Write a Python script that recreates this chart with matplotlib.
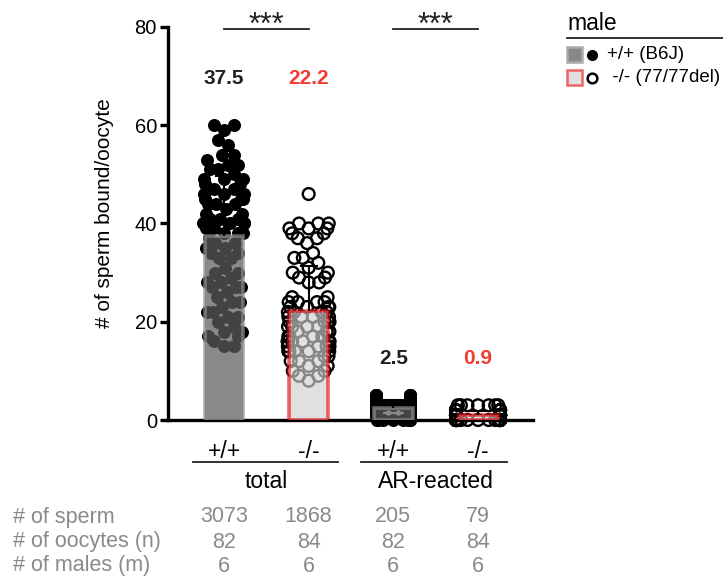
import numpy as np
import matplotlib
matplotlib.use('Agg')
import matplotlib.pyplot as plt
from matplotlib.patches import Rectangle
from matplotlib.lines import Line2D
from matplotlib.transforms import blended_transform_factory

plt.rcParams['font.family'] = ['Liberation Sans', 'DejaVu Sans']

# ---------------- data ----------------
bar_labels = ['+/+', '-/-', '+/+', '-/-']
group_names = ['total', 'AR-reacted']
mean_labels = ['37.5', '22.2', '2.5', '0.9']

wt_total = [60, 60, 59, 57, 56, 54, 54, 53, 52, 52, 51, 51, 50,
            49, 49, 49, 48, 48, 47, 47, 47, 46, 46, 46,
            45, 45, 45, 44, 44, 44, 43,
            42, 42, 41, 41, 41, 40, 40, 40, 40, 40,
            39, 39, 38, 38, 38, 37,
            36, 36, 35, 35, 34, 34, 33, 33,
            30, 30, 29, 28, 28, 27, 27, 27, 26,
            25, 24, 24, 23, 22, 22, 21, 21, 20, 19, 18, 18,
            17, 17, 16, 15, 15, 31]
ko_total = [46, 40, 40, 40, 39, 39, 39, 38, 38, 37, 37, 36,
            34, 33, 33, 32, 31, 30, 30, 29, 29, 28, 28,
            25, 25, 24, 24, 24, 24, 23, 23, 23, 23, 22, 22, 22, 22,
            21, 21, 21, 21, 20, 20, 20, 20, 19, 19, 19, 19, 18, 18, 18, 18,
            17, 17, 16, 16, 16, 14, 14,
            17, 17, 16, 16, 16, 15, 15, 15, 14, 14, 13, 13,
            15, 14, 12, 12, 12, 11, 11, 10, 10, 9, 9, 8]
wt_ar = [5, 5, 5, 5, 5, 5, 5, 5, 5,
         4, 4, 4, 4, 4, 4, 4, 4, 4, 4, 4, 4, 4, 4,
         3, 3, 3, 3, 3, 3, 3, 3, 3, 3, 3, 3, 3, 3, 3, 3, 3, 3,
         2, 2, 2, 2, 2, 2, 2, 2, 2, 2, 2, 2, 2, 2, 2, 2, 2, 2, 2,
         1, 1, 1, 1, 1, 1, 1, 1, 1, 1, 1, 1,
         0, 0, 0, 0, 0, 0, 0, 0, 0, 0]
ko_ar = [3, 3, 3, 3, 3, 3, 3,
         2, 2, 2, 2, 2, 2, 2, 2, 2, 2, 2, 2,
         1, 1, 1, 1, 1, 1, 1, 1, 1, 1, 1, 1, 1, 1, 1, 1, 1,
         1, 1, 1, 1, 1, 1, 1, 1, 1, 1, 1, 1, 1, 1, 1, 1, 1,
         0, 0, 0, 0, 0, 0, 0, 0, 0, 0, 0, 0, 0, 0, 0, 0,
         0, 0, 0, 0, 0, 0, 0, 0, 0, 0, 0, 0, 0, 0, 0]
series = [wt_total, ko_total, wt_ar, ko_ar]

table_rows = ['# of sperm', '# of oocytes (n)', '# of males (m)']
n_sperm = ['3073', '1868', '205', '79']
n_oocytes = ['82', '84', '82', '84']
n_males = ['6', '6', '6', '6']

# ---------------- figure ----------------
W, H = 723, 582
fig = plt.figure(figsize=(W / 100, H / 100), dpi=100)
ax_l, ax_r, ax_t, ax_b = 168, 533, 27, 420
ax = fig.add_axes([ax_l / W, 1 - ax_b / H, (ax_r - ax_l) / W, (ax_b - ax_t) / H])
xpos = np.arange(4)
ax.set_xlim(-0.661, 3.649)
ax.set_ylim(0, 80)

sx = (ax_r - ax_l) / (3.649 + 0.661)
sy = (ax_b - ax_t) / 80.0


def swarm(vals, d_px, maxoff_px):
    ys = np.array(vals, float) * sy
    order = np.argsort(ys)
    placed = []
    offs = np.zeros(len(ys))
    for i in order:
        y = ys[i]
        cands = [0.0]
        for (px, py) in placed:
            dy = y - py
            if abs(dy) < d_px:
                dx = np.sqrt(d_px ** 2 - dy ** 2)
                cands += [px + dx + 1e-6, px - dx - 1e-6]
        cands.sort(key=abs)
        for c in cands:
            ok = True
            for (px, py) in placed:
                if (c - px) ** 2 + (y - py) ** 2 < d_px ** 2 - 1e-6:
                    ok = False
                    break
            if ok:
                offs[i] = c
                break
        placed.append((offs[i], y))
    offs = maxoff_px * np.tanh(offs / maxoff_px)
    return offs / sx


wt_face = (0.365, 0.365, 0.365, 0.73)
wt_edge = (0.545, 0.545, 0.545, 0.73)
ko_face = (0.816, 0.816, 0.816, 0.655)
ko_edge = (0.91, 0.07, 0.07, 0.655)

maxoffs = [21, 21, 17, 22]
for i, vals in enumerate(series):
    off = swarm(vals, 11.5, maxoffs[i])
    if i % 2 == 0:
        ax.scatter(xpos[i] + off, vals, s=88, color='black', linewidths=0,
                   zorder=2, clip_on=False)
    else:
        ax.scatter(xpos[i] + off, vals, s=72, facecolors='none',
                   edgecolors='black', linewidths=1.7, zorder=2, clip_on=False)

means = [np.mean(v) for v in series]
sds = [np.std(v, ddof=1) for v in series]
cap_half = 9.0 / sx
for i in range(4):
    fc, ec = (wt_face, wt_edge) if i % 2 == 0 else (ko_face, ko_edge)
    ax.bar(xpos[i], means[i], width=0.46, color=fc, edgecolor=ec,
           linewidth=2.6, zorder=3)
    ax.vlines(xpos[i], means[i], means[i] + sds[i], color='black', lw=1.5,
              zorder=4)
    ax.hlines(means[i] + sds[i], xpos[i] - cap_half, xpos[i] + cap_half,
              color='black', lw=1.5, zorder=4)

# mean labels
mean_y = [69.5, 69.5, 12.6, 12.6]
for i in range(4):
    ax.text(xpos[i], mean_y[i], mean_labels[i], ha='center', va='center',
            fontsize=15, fontweight='bold',
            color='#222222' if i % 2 == 0 else '#f03c32', clip_on=False)

# significance
for a, b in [(0, 1), (2, 3)]:
    ax.plot([xpos[a], xpos[b]], [79.5, 79.5], color='#222222', lw=1.3,
            clip_on=False, zorder=5)
    ax.text((xpos[a] + xpos[b]) / 2, 78.6, '***', ha='center', va='baseline',
            fontsize=22, color='#222222', clip_on=False)

# axes styling
for s in ['top', 'right']:
    ax.spines[s].set_visible(False)
ax.spines['left'].set_linewidth(2.4)
ax.spines['bottom'].set_linewidth(2.4)
ax.spines['left'].set_bounds(0, 80)
ax.set_yticks([0, 20, 40, 60, 80])
ax.tick_params(axis='y', length=6, width=2.4, labelsize=14.5, pad=2)
ax.set_xticks([])
fig.text(105 / W, 1 - 213 / H, '# of sperm bound/oocyte', rotation=90,
         ha='center', va='center', fontsize=15)

# bar category labels and group labels
btr = blended_transform_factory(ax.transData, fig.transFigure)
for i in range(4):
    fig.texts.append(plt.Text(xpos[i], 1 - 452 / H, bar_labels[i],
                              transform=btr, fontsize=16.5, ha='center',
                              va='center', figure=fig))
spans = [(-0.37, 1.35), (1.62, 3.34)]
for g, (x0, x1) in enumerate(spans):
    fig.add_artist(Line2D([x0, x1], [1 - 462 / H, 1 - 462 / H], transform=btr,
                          color='#222222', lw=1.3))
    fig.texts.append(plt.Text((xpos[2 * g] + xpos[2 * g + 1]) / 2, 1 - 481 / H,
                              group_names[g], transform=btr, fontsize=16.5,
                              ha='center', va='center', figure=fig))

# table
row_y = [517, 542, 566]
gray = '#8a8a8a'
for r, (lab, vals) in enumerate(zip(table_rows, [n_sperm, n_oocytes, n_males])):
    fig.text(13 / W, 1 - row_y[r] / H, lab, fontsize=15.5, color=gray,
             ha='left', va='center')
    for i in range(4):
        fig.texts.append(plt.Text(xpos[i], 1 - row_y[r] / H, vals[i],
                                  transform=btr, fontsize=15.5, color=gray,
                                  ha='center', va='center', figure=fig))

# legend
fig.text(567 / W, 1 - 23 / H, 'male', fontsize=16.5, ha='left', va='center')
fig.add_artist(Line2D([567 / W, 1.0], [1 - 38 / H, 1 - 38 / H],
                      transform=fig.transFigure, color='#222222', lw=1.3))
fig.add_artist(Rectangle((567 / W, 1 - 62 / H), 15 / W, 15 / H,
                         transform=fig.transFigure, facecolor='#888888',
                         edgecolor='#aaaaaa', lw=1.8))
fig.add_artist(Line2D([592 / W], [1 - 54.5 / H], transform=fig.transFigure,
                      marker='o', markersize=7, color='black', lw=0))
fig.text(607 / W, 1 - 54.5 / H, '+/+ (B6J)', fontsize=13.5, ha='left',
         va='center')
fig.add_artist(Rectangle((567 / W, 1 - 85 / H), 15 / W, 15 / H,
                         transform=fig.transFigure, facecolor='#e0e0e0',
                         edgecolor='#f06464', lw=1.8))
fig.add_artist(Line2D([592 / W], [1 - 77.5 / H], transform=fig.transFigure,
                      marker='o', markersize=7, markerfacecolor='none',
                      markeredgecolor='black', markeredgewidth=1.8, lw=0))
fig.text(607 / W, 1 - 77.5 / H, ' -/- (77/77del)', fontsize=13.5, ha='left',
         va='center')

fig.savefig('out.png', dpi=100)
